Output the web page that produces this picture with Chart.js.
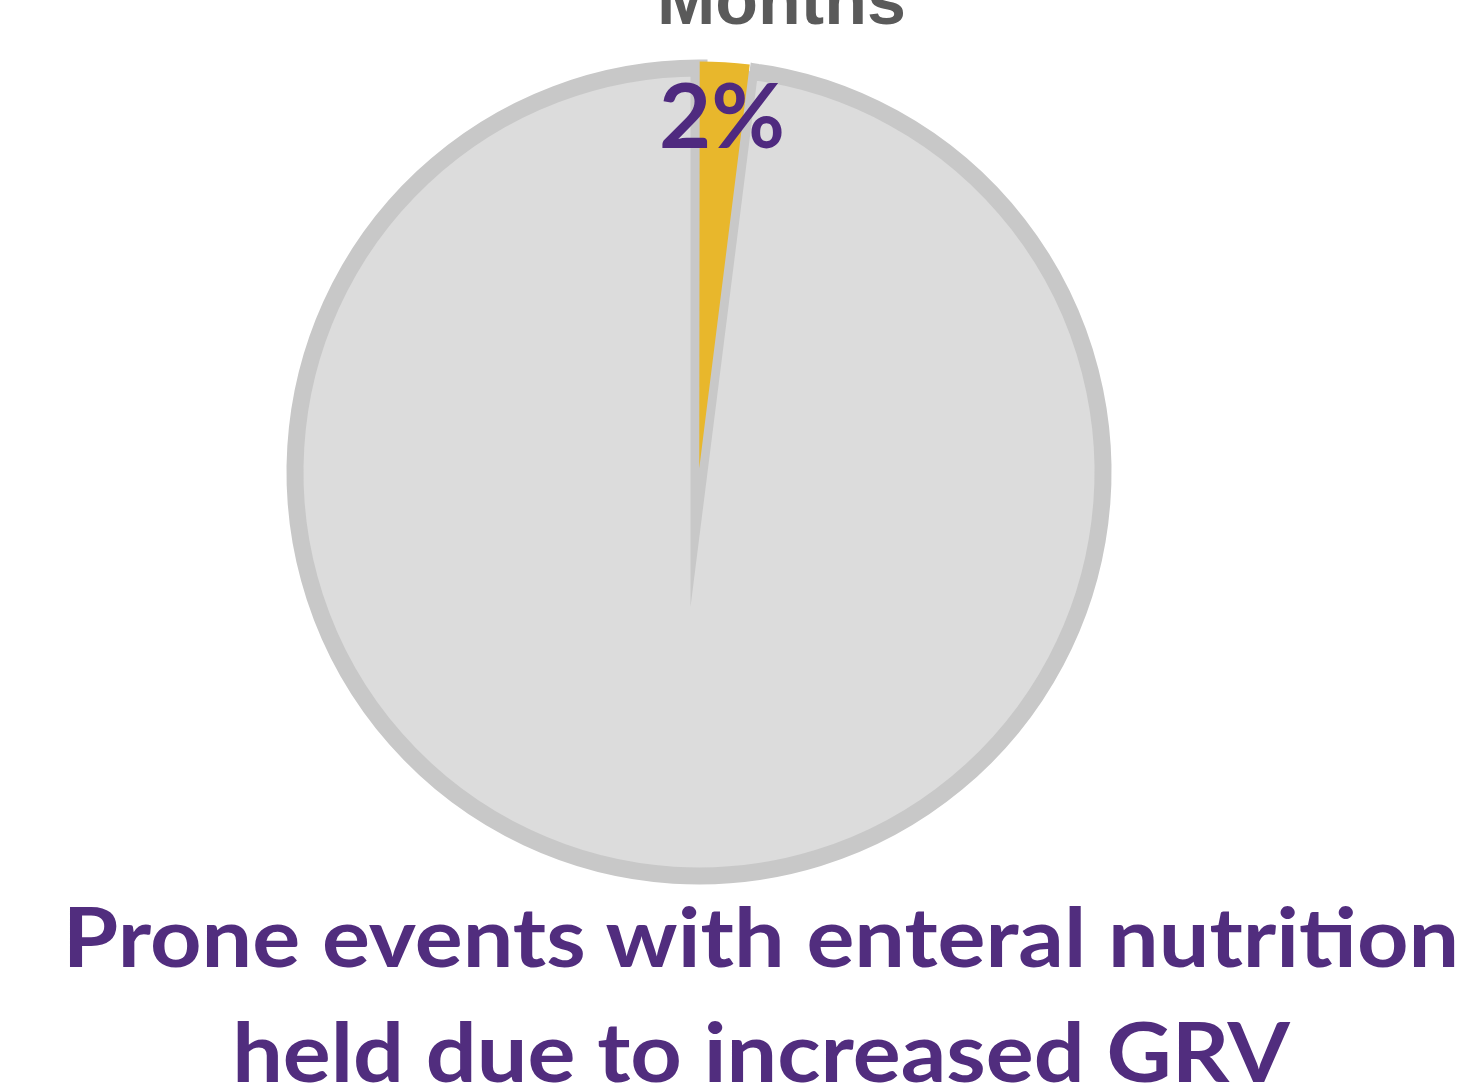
<!DOCTYPE html>
<html>
<head>
<meta charset="utf-8">
<script src="https://cdn.jsdelivr.net/npm/chart.js@4/dist/chart.umd.min.js"></script>
<style>
  body { margin: 0; width: 1458px; height: 1087px; overflow: hidden; background: #fff; position: relative; }
  #pieWrap { position: absolute; left: 249px; top: 22px; width: 900px; height: 900px; }
  .txt { position: absolute; white-space: nowrap; line-height: 1; font-variant-ligatures: none; font-feature-settings: "liga" 0, "clig" 0, "dlig" 0; }
  #title { left: 657px; top: -40px; font: bold 70px "Liberation Sans", Arial, sans-serif; color: #5a5a5a; }
  #pct { left: 722px; top: 59px; transform: translateX(-50%); font: bold 90px Lato, sans-serif; color: #4f2a7f; }
  .cap { left: 761px; font: bold 83px Lato, sans-serif; color: #512d7e; transform-origin: center top; }
  #cap1 { top: 885px; }
  #cap2 { top: 1000px; }
</style>
</head>
<body>
<div id="title" class="txt">Months</div>
<div id="pieWrap"><canvas id="pie"></canvas></div>
<div id="pct" class="txt">2%</div>
<div id="cap1" class="txt cap">Prone events with enteral nutrition</div>
<div id="cap2" class="txt cap">held due to increased GRV</div>
<script>
// prone events: enteral nutrition held due to GRV vs not held
var labels = ["Not held", "Held due to increased GRV"];
var values = [98, 2];
var sliceColors = ["#dcdcdc", "#e8b72c"];
var borderColors = ["#c8c8c8", "#e8b72c"];

// squeeze the caption so it spans the same width as the picture
var cap1 = document.getElementById("cap1");
var cap2 = document.getElementById("cap2");
var k = 1396 / cap1.offsetWidth;
cap1.style.transform = "translateX(-50%) scaleX(" + k + ")";
cap2.style.transform = "translateX(-50%) scaleX(" + k + ")";

// lets the gray slice's border make the long pointed spike under the center
var miterPlugin = {
  id: "miter",
  beforeDatasetsDraw: function(chart) {
    chart.ctx.miterLimit = 40;
  }
};

new Chart("pie", {
  type: "pie",
  data: {
    labels: labels,
    datasets: [{
      data: values,
      backgroundColor: sliceColors,
      borderColor: borderColors,
      borderWidth: [17, 0],
      borderJoinStyle: "miter",
      offset: [0, 14]
    }]
  },
  options: {
    responsive: true,
    maintainAspectRatio: false,
    animation: false,
    rotation: 7.2,
    radius: 404,
    layout: { padding: 0 },
    plugins: {
      legend: { display: false },
      tooltip: { enabled: false },
      title: { display: false }
    }
  },
  plugins: [miterPlugin]
});
</script>
</body>
</html>
